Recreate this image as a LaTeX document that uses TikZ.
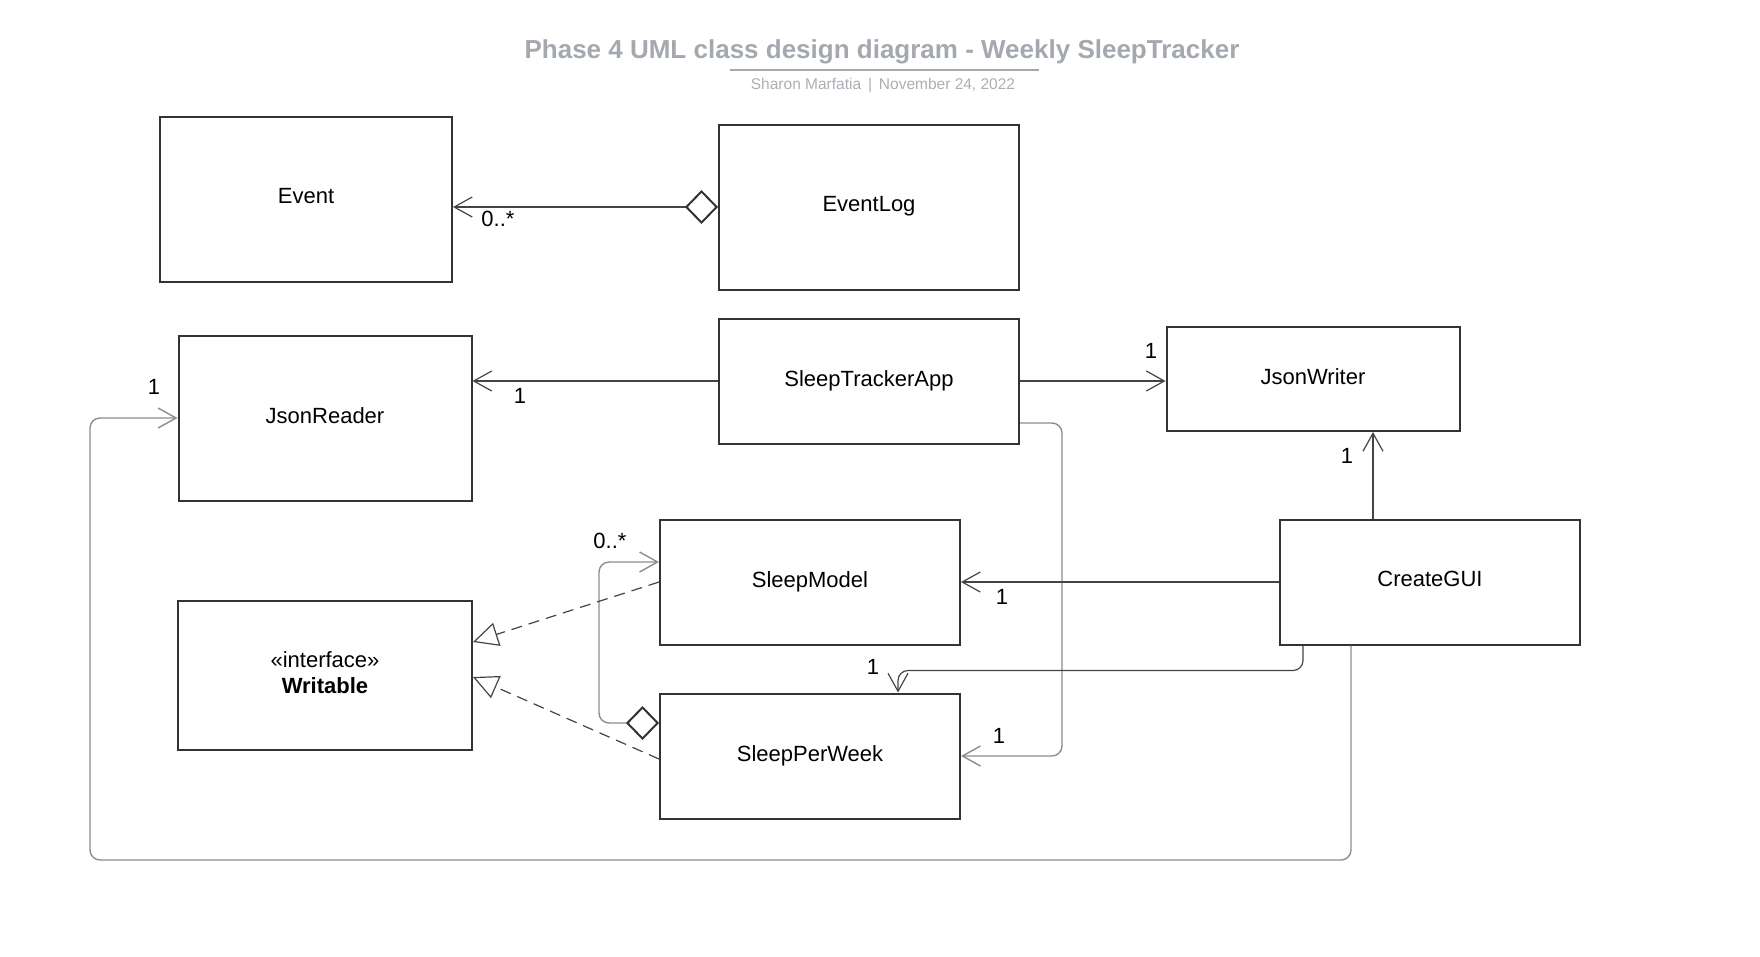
\documentclass[tikz,border=0pt]{standalone}
\usepackage{fontspec}
\setmainfont{Liberation Sans}
\usetikzlibrary{arrows.meta}
\definecolor{boxline}{HTML}{333333}
\definecolor{linkline}{HTML}{444444}
\definecolor{routeline}{HTML}{8C8C8C}
\definecolor{titlegray}{HTML}{A4A8AF}
\definecolor{subgray}{HTML}{ABAEB4}

\begin{document}
\begin{tikzpicture}[x=1pt,y=-1pt]
	\tikzstyle{classbox}=[draw=boxline, line width=2pt, minimum width=300pt, minimum height=125pt, inner sep=0pt, text depth=5.5pt, font=\fontsize{22}{26}\selectfont]
	\tikzstyle{mult}=[font=\fontsize{22}{26}\selectfont, inner sep=0pt]
	\tikzstyle{link}=[draw=linkline, line width=1.2pt]
	\tikzstyle{route}=[draw=routeline, line width=1.4pt, rounded corners=10pt]
	\tikzstyle{nav}=[-{Straight Barb[length=18pt,width=20pt]}]
	\tikzstyle{aggnav}=[{Diamond[open,length=33pt,width=34pt,line width=2pt,color=boxline]}-{Straight Barb[length=18pt,width=20pt]}]
	\tikzstyle{realize}=[draw=linkline, line width=1.2pt, dash pattern=on 11pt off 7pt, -{Triangle[open,length=25pt,width=24pt]}]

	\useasboundingbox (0,0) rectangle (1760,956);

	% title
	\node[font=\fontsize{26}{31}\selectfont\bfseries, text=titlegray](title) at (882,52){Phase 4 UML class design diagram - Weekly SleepTracker};
	\draw[titlegray, line width=2pt] (730,70) -- (1039,70);
	\node[font=\fontsize{15.5}{18}\selectfont, text=subgray](subtitle) at (883,86){Sharon Marfatia \,|\, November 24, 2022};

	% classes
	\node[classbox, minimum width=292pt, minimum height=165pt](Event) at (306,199){Event};
	\node[classbox, minimum height=165pt](EventLog) at (869,207){EventLog};
	\node[classbox, minimum width=293pt, minimum height=165pt](JsonReader) at (325,418){JsonReader};
	\node[classbox](SleepTrackerApp) at (869,381){SleepTrackerApp};
	\node[classbox, minimum width=293pt, minimum height=104pt](JsonWriter) at (1313,379){JsonWriter};
	\node[classbox](SleepModel) at (810,582){SleepModel};
	\node[classbox](CreateGUI) at (1430,582){CreateGUI};
	\node[classbox, minimum width=294pt, minimum height=149pt, align=center](Writable) at (325,675){«interface»\\\textbf{Writable}};
	\node[classbox](SleepPerWeek) at (810,756){SleepPerWeek};

	% associations
	\draw[link, aggnav] (EventLog.west) -- (Event.east |- EventLog.west);
	\draw[link, nav] (SleepTrackerApp.west) -- (JsonReader.east |- SleepTrackerApp.west);
	\draw[link, nav] (SleepTrackerApp.east) -- (JsonWriter.west |- SleepTrackerApp.east);
	\draw[route, nav] (SleepTrackerApp.east |- 0,423) -- ++(42,0) |- (SleepPerWeek.east);
	\draw[link, nav] ([xshift=-57pt]CreateGUI.north) -- ([xshift=-57pt]CreateGUI.north |- JsonWriter.south);
	\draw[link, nav] (CreateGUI.west) -- (SleepModel.east);
	\draw[link, rounded corners=10pt, nav] ([xshift=-127pt]CreateGUI.south) -- ++(0,25) -| ([xshift=88pt]SleepPerWeek.north);
	\draw[route, nav] ([xshift=-79pt]CreateGUI.south) |- (90,860) |- (JsonReader.west);
	\draw[route, aggnav] ([yshift=33pt]SleepPerWeek.west) -- ++(-60,0) |- ([yshift=20pt]SleepModel.west);

	% realizations
	\draw[realize] (SleepModel.west) -- ([yshift=33pt]Writable.east);
	\draw[realize] ([yshift=-3pt]SleepPerWeek.west) -- ([yshift=-2pt]Writable.east);

	% multiplicities
	\node[mult](m1) at (498,219){0..*};
	\node[mult](m2) at (520,396){1};
	\node[mult](m3) at (1151,351){1};
	\node[mult](m4) at (999,736){1};
	\node[mult](m5) at (1347,456){1};
	\node[mult](m6) at (1002,597){1};
	\node[mult](m7) at (873,667){1};
	\node[mult](m8) at (154,387){1};
	\node[mult](m9) at (610,541){0..*};
\end{tikzpicture}
\end{document}
